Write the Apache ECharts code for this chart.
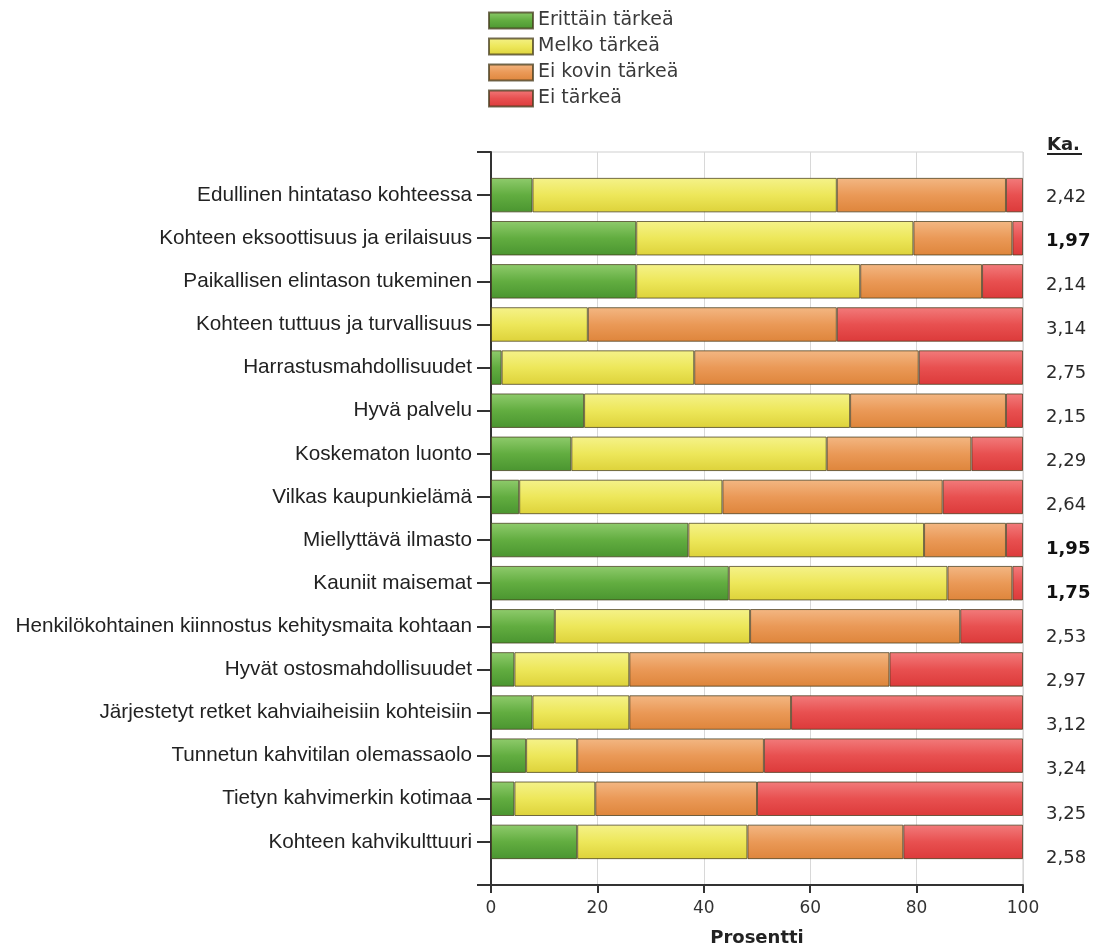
<!DOCTYPE html>
<html>
<head>
<meta charset="utf-8">
<script src="https://cdn.jsdelivr.net/npm/echarts@6/dist/echarts.min.js"></script>
<style>
  html, body { margin: 0; padding: 0; background: #fff; }
  #chart { width: 1097px; height: 950px; }
</style>
</head>
<body>
<div id="chart"></div>
<script>
// Survey items, top to bottom
const categories = [
  'Edullinen hintataso kohteessa',
  'Kohteen eksoottisuus ja erilaisuus',
  'Paikallisen elintason tukeminen',
  'Kohteen tuttuus ja turvallisuus',
  'Harrastusmahdollisuudet',
  'Hyvä palvelu',
  'Koskematon luonto',
  'Vilkas kaupunkielämä',
  'Miellyttävä ilmasto',
  'Kauniit maisemat',
  'Henkilökohtainen kiinnostus kehitysmaita kohtaan',
  'Hyvät ostosmahdollisuudet',
  'Järjestetyt retket kahviaiheisiin kohteisiin',
  'Tunnetun kahvitilan olemassaolo',
  'Tietyn kahvimerkin kotimaa',
  'Kohteen kahvikulttuuri'
];

// Share of answers (%) per response option
const erittainTarkea = [7.8, 27.3, 27.3, 0, 2.0, 17.5, 15.1, 5.3, 37.1, 44.7, 12.0, 4.4, 7.8, 6.6, 4.4, 16.2];
const melkoTarkea    = [57.2, 52.1, 42.1, 18.2, 36.2, 50.0, 48.0, 38.2, 44.3, 41.1, 36.7, 21.6, 18.2, 9.6, 15.2, 32.0];
const eiKovinTarkea  = [31.8, 18.6, 22.9, 46.8, 42.2, 29.3, 27.2, 41.4, 15.4, 12.2, 39.5, 48.9, 30.4, 35.1, 30.4, 29.3];
const eiTarkea       = [3.2, 2.0, 7.7, 35.0, 19.6, 3.2, 9.7, 15.1, 3.2, 2.0, 11.8, 25.1, 43.6, 48.7, 50.0, 22.5];

// Mean score per item
const keskiarvot = ['2,42', '1,97', '2,14', '3,14', '2,75', '2,15', '2,29', '2,64', '1,95', '1,75', '2,53', '2,97', '3,12', '3,24', '3,25', '2,58'];

const xTicks = [0, 20, 40, 60, 80, 100];

// Half-band padding above and below the bars: blank slots at both ends
const pad = arr => [null].concat(arr, [null]);
const yCats = [''].concat(categories, [' ']);
const meanCats = [''].concat(keskiarvot, [' ']);

function grad(top, mid, bottom) {
  return new echarts.graphic.LinearGradient(0, 0, 0, 1, [
    { offset: 0, color: top },
    { offset: 0.5, color: mid },
    { offset: 1, color: bottom }
  ]);
}

const seriesDefs = [
  { name: 'Erittäin tärkeä', data: erittainTarkea, color: grad('#8fcb6c', '#62ad40', '#4a9530') },
  { name: 'Melko tärkeä',    data: melkoTarkea,    color: grad('#f5f28a', '#ede75a', '#ddd23a') },
  { name: 'Ei kovin tärkeä', data: eiKovinTarkea,  color: grad('#f3b783', '#ea9957', '#de853b') },
  { name: 'Ei tärkeä',       data: eiTarkea,       color: grad('#f27b7b', '#e85050', '#dc3a3a') }
];

const labelFont = 'Liberation Sans, Arial, sans-serif';
const sideFont = 'DejaVu Sans, Verdana, sans-serif';

const chart = echarts.init(document.getElementById('chart'), null, { renderer: 'canvas' });

chart.setOption({
  animation: false,
  backgroundColor: '#ffffff',
  legend: {
    orient: 'vertical',
    left: 488,
    top: 11,
    padding: 0,
    itemWidth: 44,
    itemHeight: 16,
    itemGap: 7,
    icon: 'rect',
    textStyle: { fontFamily: sideFont, fontSize: 19, lineHeight: 19, color: '#3a3a3a' },
    data: seriesDefs.map(s => s.name)
  },
  grid: [
    { left: 491, top: 152, width: 532, height: 733, show: true, borderColor: '#cfcfcf', borderWidth: 1, outerBoundsMode: 'none' },
    { left: 491, top: 153, width: 532, height: 749, outerBoundsMode: 'none' }
  ],
  graphic: [
    {
      type: 'text', left: 1047, top: 136,
      style: { text: 'Ka.', font: 'bold 18px ' + sideFont, fill: '#222' }
    },
    {
      type: 'rect', left: 1047, top: 153,
      shape: { width: 35, height: 2 },
      style: { fill: '#222' }
    }
  ],
  xAxis: [
    {
      gridIndex: 0,
      type: 'value',
      min: xTicks[0],
      max: xTicks[xTicks.length - 1],
      interval: 20,
      axisLine: { show: true, lineStyle: { color: '#333', width: 2 } },
      axisTick: { show: true, inside: false, length: 8, lineStyle: { color: '#333', width: 2 } },
      splitLine: { show: true, lineStyle: { color: '#d8d8d8', width: 1 } },
      axisLabel: { fontFamily: sideFont, fontSize: 17, color: '#333', margin: 15 },
      name: 'Prosentti',
      nameLocation: 'middle',
      nameGap: 44,
      nameTextStyle: { fontFamily: sideFont, fontSize: 18, fontWeight: 'bold', color: '#222' }
    },
    { gridIndex: 1, type: 'value', show: false }
  ],
  yAxis: [
    {
      gridIndex: 0,
      type: 'category',
      data: yCats,
      inverse: true,
      boundaryGap: false,
      axisLine: { show: true, lineStyle: { color: '#333', width: 2 } },
      axisTick: { show: true, inside: false, length: 14, lineStyle: { color: '#333', width: 2 } },
      splitLine: { show: false },
      axisLabel: { fontFamily: labelFont, fontSize: 20.7, color: '#222', margin: 19, interval: 0 }
    },
    {
      gridIndex: 1,
      type: 'category',
      position: 'right',
      data: meanCats,
      inverse: true,
      boundaryGap: false,
      axisLine: { show: false },
      axisTick: { show: false },
      splitLine: { show: false },
      axisLabel: {
        interval: 0,
        margin: 23,
        fontFamily: sideFont,
        fontSize: 18,
        color: '#2a2a2a',
        formatter: function (v) {
          const n = parseFloat(String(v).replace(',', '.'));
          return n < 2 ? '{b|' + v + '}' : v;
        },
        rich: { b: { fontFamily: sideFont, fontSize: 18, fontWeight: 'bold', color: '#111' } }
      }
    }
  ],
  series: seriesDefs.map(s => ({
    name: s.name,
    type: 'bar',
    stack: 'total',
    xAxisIndex: 0,
    yAxisIndex: 0,
    barWidth: '80%',
    data: pad(s.data),
    itemStyle: { color: s.color, borderColor: 'rgba(70,60,30,0.75)', borderWidth: 1 },
    emphasis: { disabled: true }
  }))
});
</script>
</body>
</html>
